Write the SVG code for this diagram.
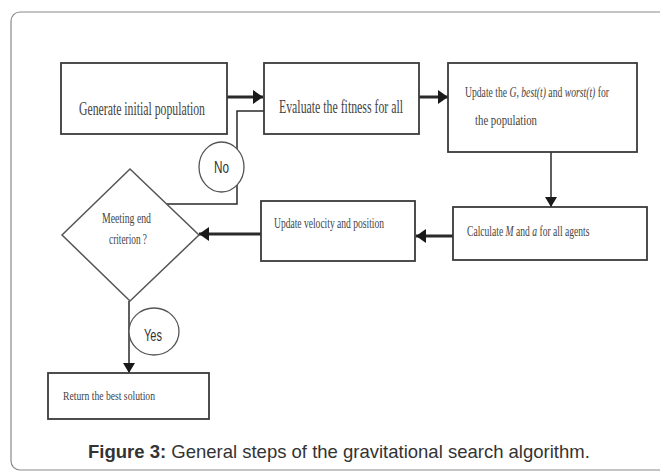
<svg xmlns="http://www.w3.org/2000/svg" width="660" height="472" viewBox="0 0 660 472">
  <style>
    .box { fill: #fff; stroke: #3a3a3a; stroke-width: 1.8; }
    .t { font-family: "Liberation Serif", "Times New Roman", serif; fill: #444; }
    .s { font-family: "Liberation Sans", Arial, sans-serif; fill: #333; }
    .thick { fill: none; stroke: #2a2a2a; stroke-width: 3; }
    .thin { fill: none; stroke: #2a2a2a; stroke-width: 1.5; }
    .lbl { fill: #fff; stroke: #555; stroke-width: 1.3; }
    .i { font-style: italic; }
  </style>
  <defs>
    <marker id="ah" markerUnits="userSpaceOnUse" markerWidth="10" markerHeight="14" refX="10" refY="7" orient="auto">
      <path d="M0,0 L10,7 L0,14 z" fill="#1a1a1a"/>
    </marker>
    <marker id="ahs" markerUnits="userSpaceOnUse" markerWidth="10" markerHeight="14" refX="10" refY="7" orient="auto">
      <path d="M0,1 L10,7 L0,13 z" fill="#1a1a1a"/>
    </marker>
  </defs>

  <rect x="11" y="12" width="700" height="458" rx="9" fill="#fff" stroke="#8a8a8a" stroke-width="1.2"/>

  <g id="connectors">
    <line class="thick" x1="227" y1="97" x2="263" y2="97" marker-end="url(#ah)"/>
    <line class="thick" x1="419" y1="97" x2="448" y2="97" marker-end="url(#ah)"/>
    <line class="thin" x1="551" y1="152" x2="551" y2="207" marker-end="url(#ahs)"/>
    <line class="thick" x1="453" y1="236" x2="416" y2="236" marker-end="url(#ah)"/>
    <line class="thick" x1="261" y1="234" x2="199" y2="234" marker-end="url(#ah)"/>
    <polyline class="thin" points="167,204 237,204 237,111 264,111"/>
    <line class="thin" x1="129" y1="301" x2="129" y2="373" marker-end="url(#ahs)"/>
  </g>

  <g id="label-no">
    <ellipse class="lbl" cx="221.5" cy="167" rx="22.5" ry="25"/>
    <text class="s" x="221.5" y="173" font-size="16" text-anchor="middle" textLength="15" lengthAdjust="spacingAndGlyphs">No</text>
  </g>
  <g id="label-yes">
    <ellipse class="lbl" cx="154" cy="331.5" rx="25" ry="23.5"/>
    <text class="s" x="153" y="341" font-size="16" text-anchor="middle" textLength="18" lengthAdjust="spacingAndGlyphs">Yes</text>
  </g>

  <g id="node-generate">
    <rect class="box" x="61" y="63" width="166" height="71"/>
    <text class="t" x="79" y="115" font-size="19" textLength="126" lengthAdjust="spacingAndGlyphs">Generate initial population</text>
  </g>

  <g id="node-evaluate">
    <rect class="box" x="264" y="63" width="155" height="71"/>
    <text class="t" x="279" y="113" font-size="19" textLength="124" lengthAdjust="spacingAndGlyphs">Evaluate the fitness for all</text>
  </g>

  <g id="node-update-g">
    <rect class="box" x="448" y="63" width="189" height="89"/>
    <text class="t" transform="translate(465,97) scale(0.69,1)" font-size="14">Update the <tspan class="i">G</tspan>, <tspan class="i">best(t)</tspan> and <tspan class="i">worst(t)</tspan> for</text>
    <text class="t" x="475" y="125" font-size="15" fill="#222" textLength="62" lengthAdjust="spacingAndGlyphs">the population</text>
  </g>

  <g id="node-calculate">
    <rect class="box" x="453" y="207" width="194" height="53"/>
    <text class="t" transform="translate(467,236) scale(0.64,1)" font-size="15">Calculate <tspan class="i">M</tspan> and <tspan class="i">a</tspan> for all agents</text>
  </g>

  <g id="node-velocity">
    <rect class="box" x="261" y="201" width="154" height="60"/>
    <text class="t" x="274" y="228" font-size="15" textLength="110" lengthAdjust="spacingAndGlyphs">Update velocity and position</text>
  </g>

  <g id="node-decision">
    <polygon points="130,169 199,235 130,301 62,235" fill="#fff" stroke="#555" stroke-width="1.5"/>
    <text class="t" x="126.5" y="223" font-size="14" text-anchor="middle" textLength="49" lengthAdjust="spacingAndGlyphs">Meeting end</text>
    <text class="t" x="128" y="244" font-size="14" text-anchor="middle" textLength="38" lengthAdjust="spacingAndGlyphs">criterion ?</text>
  </g>

  <g id="node-return">
    <rect class="box" x="48" y="373" width="161" height="46"/>
    <text class="t" x="63" y="400" font-size="13" textLength="92" lengthAdjust="spacingAndGlyphs">Return the best solution</text>
  </g>

  <text class="s" x="88" y="458" font-size="18.5" fill="#111"><tspan font-weight="bold">Figure 3:</tspan> General steps of the gravitational search algorithm.</text>
</svg>
